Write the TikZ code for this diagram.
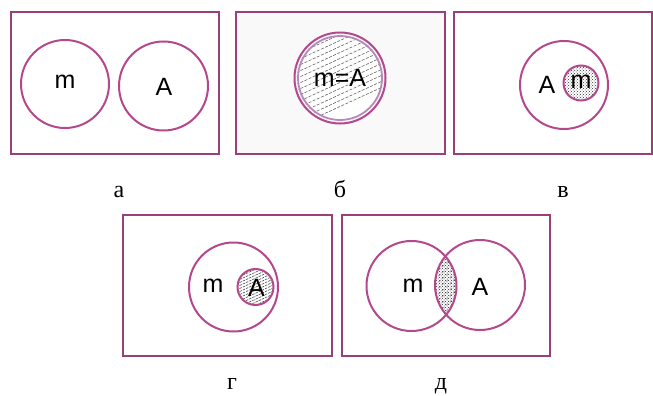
\documentclass[tikz,border=0pt]{standalone}
\usepackage{fontspec}
\setmainfont{Liberation Serif}
\newfontfamily\lblfont{Liberation Sans}
\usetikzlibrary{patterns}
\definecolor{boxc}{HTML}{9A4078}
\definecolor{circc}{HTML}{B4488C}
\definecolor{innerc}{HTML}{B68AB8}
\tikzset{
  frame/.style={draw=boxc, line width=2.6pt},
  setc/.style={circle, draw=circc, line width=2pt, inner sep=0pt},
  lbl/.style={font=\lblfont\fontsize{25}{25}\selectfont, inner sep=0pt},
  captxt/.style={font=\fontsize{24}{24}\selectfont, inner sep=0pt, anchor=base},
}
\begin{document}
\begin{tikzpicture}[x=1pt,y=-1pt]
\useasboundingbox (0,0) rectangle (653,396);
% ---------- a ----------
\node[frame, minimum width=208pt, minimum height=142pt, inner sep=0pt] (fa) at (115,83) {};
\node[setc, minimum size=88pt] (ma) at (65,84) {};
\node[setc, minimum size=89pt] (aa) at (163.5,86) {};
\node[lbl] (tma) at (65,82) {m};
\node[lbl] (taa) at (164,87) {A};
% ---------- b ----------
\node[frame, fill=gray!5, minimum width=209pt, minimum height=142pt, inner sep=0pt] (fb) at (340.5,83) {};
\begin{scope}
  \clip (340,78) circle (43);
  \fill[white] (340,78) circle (43);
  \foreach \k in {-10,...,14} {
    \draw[black!60, line width=0.6pt, dash pattern=on 3pt off 1.5pt]
      (280,{50+6*\k}) -- (400,{50+6*\k-55});
  }
\end{scope}
\node[circle, draw=innerc, line width=1.8pt, minimum size=84pt, inner sep=0pt] (ib) at (340,78) {};
\node[setc, minimum size=91pt] (ob) at (340,78) {};
\node[lbl] (tb) at (340,78) {m=A};
% ---------- v ----------
\node[frame, minimum width=198pt, minimum height=142pt, inner sep=0pt] (fc) at (553,83) {};
\node[setc, minimum size=88pt] (Ac) at (564,85) {};
\begin{scope}
  \clip (581,83) circle (17);
  \fill[pattern=crosshatch dots, pattern color=black!80] (581,83) circle (17);
\end{scope}
\node[setc, minimum size=35pt] (mc) at (581,83) {};
\node[lbl] (tAc) at (547,85) {A};
\node[lbl] (tmc) at (581,82) {m};
% ---------- g ----------
\node[frame, minimum width=209pt, minimum height=141pt, inner sep=0pt] (fd) at (227.5,285.5) {};
\node[setc, minimum size=89pt] (md) at (233.5,287) {};
\begin{scope}
  \clip (255.5,287) circle (17);
  \fill[white] (255.5,287) circle (17);
  \foreach \k in {-8,...,8} {
    \draw[black!70, line width=0.6pt, dash pattern=on 2.5pt off 1pt]
      (230,{287+3*\k+12}) -- (282,{287+3*\k-12});
  }
\end{scope}
\node[setc, minimum size=36pt] (Ad) at (255.5,287) {};
\node[lbl] (tmd) at (213,286) {m};
\node[lbl] (tAd) at (256.5,288) {A};
% ---------- d ----------
\node[frame, minimum width=208pt, minimum height=141pt, inner sep=0pt] (fe) at (446,285.5) {};
\begin{scope}
  \clip (411.5,286) circle (45);
  \clip (480,285) circle (45);
  \fill[pattern=crosshatch dots, pattern color=black!85] (420,230) rectangle (475,340);
  \foreach \k in {-10,...,10} {
    \draw[black!45, line width=0.5pt, dash pattern=on 3pt off 2pt] (420,{286+6*\k+25}) -- (475,{286+6*\k-25});
  }
\end{scope}
\node[setc, minimum size=90pt] (me) at (411.5,286) {};
\node[setc, minimum size=90pt] (Ae) at (480,285) {};
\node[lbl] (tme) at (413,286) {m};
\node[lbl] (tAe) at (480,287) {A};
% ---------- captions ----------
\node[captxt] (ca) at (119,197) {а};
\node[captxt] (cb) at (340,197) {б};
\node[captxt] (cc) at (563,197) {в};
\node[captxt] (cd) at (232,389) {г};
\node[captxt] (ce) at (441,389) {д};
\end{tikzpicture}
\end{document}
